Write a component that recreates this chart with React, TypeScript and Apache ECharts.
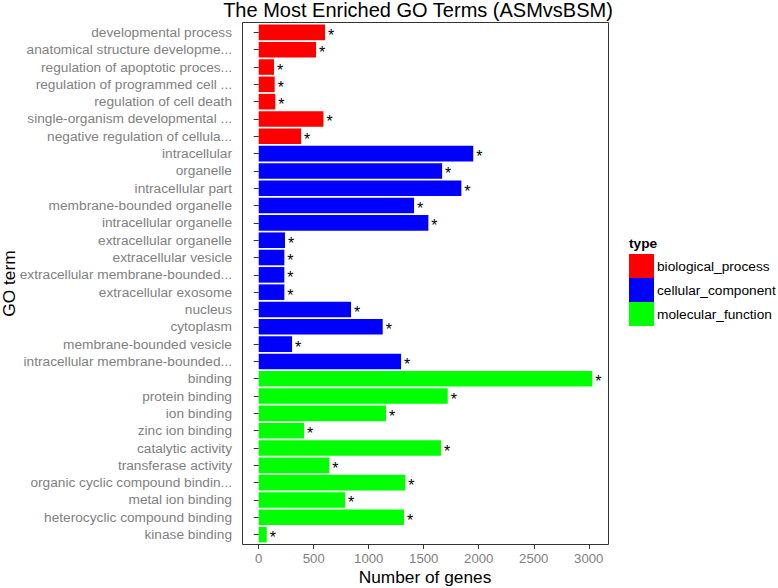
import React, { useEffect, useRef } from "react";
import * as echarts from "echarts";

const categories = [
  "developmental process",
  "anatomical structure developme...",
  "regulation of apoptotic proces...",
  "regulation of programmed cell ...",
  "regulation of cell death",
  "single-organism developmental ...",
  "negative regulation of cellula...",
  "intracellular",
  "organelle",
  "intracellular part",
  "membrane-bounded organelle",
  "intracellular organelle",
  "extracellular organelle",
  "extracellular vesicle",
  "extracellular membrane-bounded...",
  "extracellular exosome",
  "nucleus",
  "cytoplasm",
  "membrane-bounded vesicle",
  "intracellular membrane-bounded...",
  "binding",
  "protein binding",
  "ion binding",
  "zinc ion binding",
  "catalytic activity",
  "transferase activity",
  "organic cyclic compound bindin...",
  "metal ion binding",
  "heterocyclic compound binding",
  "kinase binding",
];

const geneCounts = [
  603, 521, 139, 145, 151, 588, 385,
  1950, 1667, 1842, 1412, 1542, 239, 233, 233, 233, 839, 1127, 303, 1294,
  3032, 1718, 1157, 412, 1657, 642, 1333, 785, 1321, 73,
];

const termTypes = [
  "biological_process", "biological_process", "biological_process", "biological_process",
  "biological_process", "biological_process", "biological_process",
  "cellular_component", "cellular_component", "cellular_component", "cellular_component",
  "cellular_component", "cellular_component", "cellular_component", "cellular_component",
  "cellular_component", "cellular_component", "cellular_component", "cellular_component",
  "cellular_component",
  "molecular_function", "molecular_function", "molecular_function", "molecular_function",
  "molecular_function", "molecular_function", "molecular_function", "molecular_function",
  "molecular_function", "molecular_function",
];

const typeNames = ["biological_process", "cellular_component", "molecular_function"];
const typeColors = ["#FF0000", "#0000FF", "#00FF00"];
const xTicks = [0, 500, 1000, 1500, 2000, 2500, 3000];

const FONT = "'Liberation Sans', Arial, Helvetica, sans-serif";

export default function App() {
  const ref = useRef<HTMLDivElement>(null);
  useEffect(() => {
    if (!ref.current) return;
    const chart = echarts.init(ref.current, undefined, { renderer: "svg" });
    const series = typeNames.map((t, k) => ({
      name: t,
      type: "bar",
      stack: "all",
      barWidth: "90%",
      itemStyle: { color: typeColors[k] },
      label: {
        show: true,
        position: "right",
        formatter: "*",
        distance: 3,
        color: "#000",
        fontSize: 16,
        lineHeight: 11,
        fontFamily: FONT,
        offset: [0, 3],
      },
      data: geneCounts.map((v, i) => (termTypes[i] === t ? v : "-")),
    }));
    chart.setOption({
      animation: false,
      textStyle: { fontFamily: FONT },
      grid: { left: 243, right: 169, top: 23.73, bottom: 44.73, containLabel: false },
      xAxis: {
        type: "value",
        min: -143,
        max: 3184,
        offset: 1.73,
        splitLine: { show: false },
        axisLine: { show: false },
        axisTick: { show: true, customValues: xTicks, length: 4, lineStyle: { color: "#333" } },
        axisLabel: {
          customValues: xTicks,
          color: "#7f7f7f",
          fontSize: 13.2,
          margin: 7,
          fontFamily: FONT,
          formatter: (v: number) => String(v),
        },
      },
      yAxis: {
        type: "category",
        inverse: true,
        data: categories,
        axisLine: { show: false },
        axisTick: { show: true, alignWithLabel: true, interval: 0, length: 5, lineStyle: { color: "#333" } },
        axisLabel: { color: "#7f7f7f", fontSize: 13.7, margin: 11, fontFamily: FONT, interval: 0 },
        splitLine: { show: false },
      },
      legend: {
        orient: "vertical",
        left: 629,
        top: 254,
        itemWidth: 25,
        itemHeight: 24,
        itemGap: 0,
        padding: 0,
        icon: "rect",
        selectedMode: false,
        data: typeNames,
        textStyle: { fontSize: 13.7, color: "#000", fontFamily: FONT, padding: [0, 0, 0, -2] },
      },
      graphic: [
        {
          type: "rect",
          shape: { x: 242.5, y: 22.5, width: 366, height: 522 },
          style: { fill: "none", stroke: "#333", lineWidth: 1 },
          z: 100,
        },
        {
          type: "text",
          x: 418,
          y: 10,
          style: {
            text: "The Most Enriched GO Terms (ASMvsBSM)",
            fontSize: 20,
            fontFamily: FONT,
            fill: "#000",
            textAlign: "center",
            textVerticalAlign: "middle",
          },
        },
        {
          type: "text",
          x: 425,
          y: 577,
          style: {
            text: "Number of genes",
            fontSize: 17.3,
            fontFamily: FONT,
            fill: "#000",
            textAlign: "center",
            textVerticalAlign: "middle",
          },
        },
        {
          type: "text",
          x: 9,
          y: 283.5,
          rotation: Math.PI / 2,
          style: {
            text: "GO term",
            fontSize: 17.3,
            fontFamily: FONT,
            fill: "#000",
            textAlign: "center",
            textVerticalAlign: "middle",
          },
        },
        {
          type: "text",
          x: 629,
          y: 243,
          style: {
            text: "type",
            fontSize: 13.7,
            fontWeight: "bold",
            fontFamily: FONT,
            fill: "#000",
            textAlign: "left",
            textVerticalAlign: "middle",
          },
        },
      ],
      series,
    });
    return () => chart.dispose();
  }, []);
  return <div ref={ref} style={{ width: 778, height: 588, position: "absolute", left: 0, top: 0 }} />;
}
